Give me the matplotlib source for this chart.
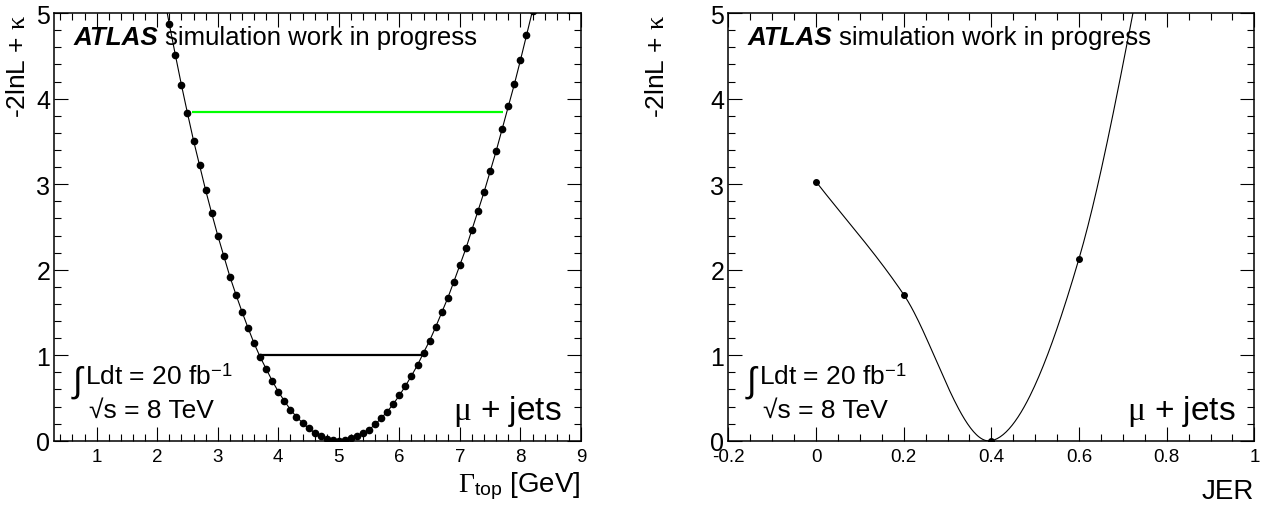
import numpy as np
import matplotlib
matplotlib.use("Agg")
import matplotlib.pyplot as plt
from matplotlib.ticker import MultipleLocator, FuncFormatter

plt.rcParams["font.family"] = ["Liberation Sans", "DejaVu Sans"]
plt.rcParams["mathtext.fontset"] = "custom"
plt.rcParams["mathtext.rm"] = "Liberation Serif"
plt.rcParams["mathtext.it"] = "Liberation Serif"
plt.rcParams["mathtext.sf"] = "Liberation Sans"

# %% data -- left: scan of the top width
gamma = np.round(np.arange(2.1, 8.21, 0.1), 1)
nll_gamma = [5.25, 4.87, 4.51, 4.16, 3.83, 3.51, 3.22, 2.93, 2.66, 2.40,
             2.16, 1.92, 1.71, 1.51, 1.32, 1.14, 0.98, 0.84, 0.70, 0.575,
             0.465, 0.365, 0.28, 0.21, 0.145, 0.094, 0.05, 0.023, 0.007, 0.0,
             0.006, 0.028, 0.055, 0.086, 0.13, 0.19, 0.265, 0.34, 0.43, 0.53,
             0.64, 0.76, 0.885, 1.03, 1.17, 1.33, 1.50, 1.67, 1.86, 2.055,
             2.25, 2.47, 2.69, 2.91, 3.15, 3.39, 3.65, 3.91, 4.17, 4.45,
             4.74, 5.03]
# 1 sigma (black) and 95% (green) intervals
sig1_lo, sig1_hi, sig1_y = 3.70, 6.41, 1.0
sig2_lo, sig2_hi, sig2_y = 2.57, 7.72, 3.84

# right: scan of the jet energy resolution (last point is off the top)
jer = [0.0, 0.2, 0.4, 0.6, 0.8]
nll_jer = [3.03, 1.71, 0.0, 2.13, 7.0]


# %%
def smooth(x, y, n=60):
    """Catmull-Rom style curve through the points (like a smoothed TGraph 'C')"""
    x, y = np.asarray(x, float), np.asarray(y, float)
    m = np.gradient(y, x, edge_order=1)
    m[1:-1] = (y[2:] - y[:-2]) / (x[2:] - x[:-2])
    xs_all, ys_all = [], []
    for k in range(len(x) - 1):
        h = x[k + 1] - x[k]
        t = np.linspace(0, 1, n)
        h00, h10 = 2 * t**3 - 3 * t**2 + 1, t**3 - 2 * t**2 + t
        h01, h11 = -2 * t**3 + 3 * t**2, t**3 - t**2
        xs_all.append(x[k] + t * h)
        ys_all.append(h00 * y[k] + h10 * h * m[k] + h01 * y[k + 1] + h11 * h * m[k + 1])
    return np.concatenate(xs_all), np.concatenate(ys_all)


def style_axes(ax):
    ax.set_ylim(0, 5)
    ax.yaxis.set_major_locator(MultipleLocator(1))
    ax.yaxis.set_minor_locator(MultipleLocator(0.2))
    ax.tick_params(which="both", direction="in", top=True, right=True, width=0.8)
    ax.tick_params(which="major", length=10)
    ax.tick_params(which="minor", length=5)
    ax.tick_params(axis="y", labelsize=18, pad=3)
    ax.tick_params(axis="x", labelsize=13.5, pad=5)
    for s in ax.spines.values():
        s.set_linewidth(1.1)
    ax.set_ylabel(r"-2lnL + $\kappa$", fontsize=19, loc="top")
    ax.yaxis.label.set_va("center")
    ax.text(0.037, 0.9275, "ATLAS", transform=ax.transAxes, fontsize=18.7,
            fontweight="bold", style="italic")
    ax.text(0.211, 0.9275, "simulation work in progress", transform=ax.transAxes,
            fontsize=18.5)
    ax.text(0.034, 0.118, "\u222b", transform=ax.transAxes, fontsize=25)
    ax.text(0.058, 0.1326, "Ldt = 20 fb$^{\\mathsf{-1}}$", transform=ax.transAxes,
            fontsize=19)
    ax.text(0.066, 0.0554, "\u221as = 8 TeV", transform=ax.transAxes, fontsize=19)
    ax.text(0.964, 0.0507, r"$\mu$ + jets", transform=ax.transAxes, fontsize=24,
            ha="right")


fig = plt.figure(figsize=(12.66, 5.06), dpi=100)
ax1 = fig.add_axes([0.0429, 0.127, 0.416, 0.845])
ax2 = fig.add_axes([0.5753, 0.127, 0.4155, 0.845])

# %% left panel
ax1.plot(gamma, nll_gamma, color="black", lw=0.8, marker="o", ms=4.5)
ax1.hlines(sig2_y, sig2_lo, sig2_hi, color="#00ff00", lw=1.6)
ax1.hlines(sig1_y, sig1_lo, sig1_hi, color="black", lw=1.6)
ax1.set_xlim(0.3, 9)
ax1.xaxis.set_major_locator(MultipleLocator(1))
ax1.xaxis.set_minor_locator(MultipleLocator(0.2))
style_axes(ax1)
ax1.set_xlabel(r"$\Gamma_{\mathsf{top}}$ [GeV]", fontsize=20, loc="right")
ax1.xaxis.label.set_va("baseline")
ax1.xaxis.set_label_coords(1.0, -0.117)
ax1.yaxis.set_label_coords(-0.068, 1.0)

# %% right panel
xs, ys = smooth(jer, nll_jer)
ax2.plot(xs, ys, color="black", lw=0.8)
ax2.plot(jer, nll_jer, "o", color="black", ms=4)
ax2.set_xlim(-0.2, 1.0)
ax2.xaxis.set_major_locator(MultipleLocator(0.2))
ax2.xaxis.set_minor_locator(MultipleLocator(0.05))
ax2.xaxis.set_major_formatter(FuncFormatter(lambda v, p: "%g" % round(v, 2)))
style_axes(ax2)
ax2.set_xlabel("JER", fontsize=20, loc="right")
ax2.xaxis.label.set_va("baseline")
ax2.xaxis.set_label_coords(1.0, -0.1347)
ax2.yaxis.set_label_coords(-0.136, 1.0)

fig.savefig("out.png", dpi=100)
